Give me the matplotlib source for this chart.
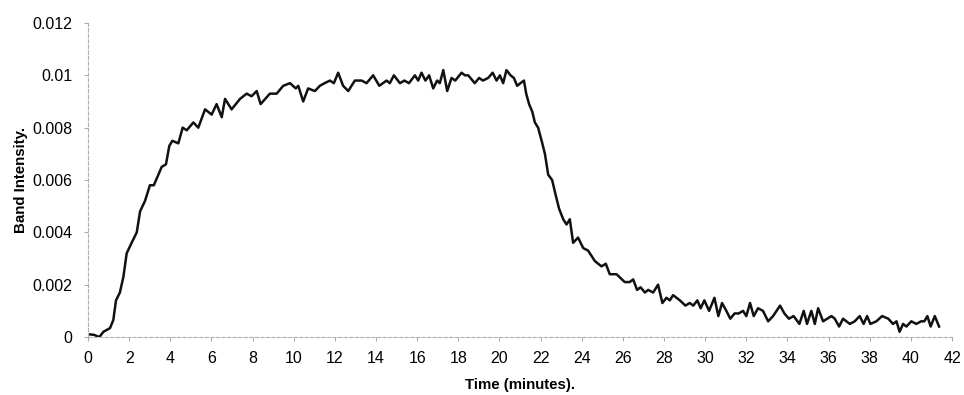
import matplotlib
matplotlib.use("Agg")
import matplotlib.pyplot as plt

plt.rcParams['font.family'] = ['Liberation Sans', 'DejaVu Sans']

# time (minutes) and band intensity
time_min = [0.1, 0.3, 0.55, 0.75, 1.07, 1.23, 1.36, 1.55, 1.72, 1.88,
            2.12, 2.37, 2.53, 2.77, 3.01, 3.2, 3.42, 3.58, 3.79, 3.95,
            4.1, 4.39, 4.6, 4.8, 5.12, 5.36, 5.69, 6.01, 6.25, 6.5,
            6.66, 6.98, 7.39, 7.71, 7.95, 8.2, 8.39, 8.84, 9.17, 9.49,
            9.82, 10.1, 10.22, 10.46, 10.7, 11.03, 11.27, 11.5, 11.76, 11.95,
            12.16, 12.4, 12.65, 12.97, 13.3, 13.54, 13.86, 14.16, 14.51, 14.67,
            14.87, 15.16, 15.38, 15.6, 15.89, 16.05, 16.21, 16.4, 16.58, 16.78,
            16.97, 17.1, 17.27, 17.46, 17.67, 17.85, 18.16, 18.32, 18.48, 18.8,
            19.01, 19.2, 19.45, 19.67, 19.86, 20.02, 20.18, 20.34, 20.54, 20.7,
            20.86, 21.02, 21.19, 21.3, 21.44, 21.6, 21.72, 21.88, 22.05, 22.21,
            22.37, 22.56, 22.74, 22.9, 23.1, 23.26, 23.42, 23.58, 23.82, 24.07,
            24.31, 24.64, 24.96, 25.17, 25.36, 25.69, 26.09, 26.33, 26.5, 26.69,
            26.86, 27.07, 27.23, 27.47, 27.71, 27.92, 28.12, 28.28, 28.44, 28.77,
            29.04, 29.25, 29.42, 29.62, 29.78, 29.96, 30.19, 30.45, 30.64, 30.82,
            31.03, 31.22, 31.43, 31.63, 31.84, 32.0, 32.18, 32.36, 32.57, 32.81,
            33.06, 33.3, 33.64, 33.85, 34.07, 34.3, 34.58, 34.79, 34.95, 35.16,
            35.33, 35.49, 35.73, 36.14, 36.3, 36.51, 36.7, 37.03, 37.27, 37.51,
            37.7, 37.87, 38.03, 38.32, 38.6, 38.9, 39.13, 39.3, 39.45, 39.62,
            39.78, 40.02, 40.26, 40.5, 40.65, 40.8, 40.96, 41.16, 41.37]

intensity = [0.0001, 0.00008, 0.0, 0.0002, 0.00034, 0.00065, 0.0014, 0.0017, 0.0023, 0.0032,
             0.0036, 0.0040, 0.0048, 0.0052, 0.0058, 0.0058, 0.0062, 0.0065, 0.0066, 0.0073,
             0.0075, 0.0074, 0.0080, 0.0079, 0.0082, 0.0080, 0.0087, 0.0085, 0.0089, 0.0084,
             0.0091, 0.0087, 0.0091, 0.0093, 0.0092, 0.0094, 0.0089, 0.0093, 0.0093, 0.0096,
             0.0097, 0.0095, 0.0096, 0.0090, 0.0095, 0.0094, 0.0096, 0.0097, 0.0098, 0.0097,
             0.0101, 0.0096, 0.0094, 0.0098, 0.0098, 0.0097, 0.0100, 0.0096, 0.0098, 0.0097,
             0.0100, 0.0097, 0.0098, 0.0097, 0.0100, 0.0098, 0.0101, 0.0098, 0.0100, 0.0095,
             0.0098, 0.0097, 0.0102, 0.0094, 0.0099, 0.0098, 0.0101, 0.0100, 0.0100, 0.0097,
             0.0099, 0.0098, 0.0099, 0.0101, 0.0098, 0.0100, 0.0097, 0.0102, 0.0100, 0.0099,
             0.0096, 0.0097, 0.0098, 0.0093, 0.0089, 0.0086, 0.0082, 0.0080, 0.0075, 0.0070,
             0.0062, 0.0060, 0.0054, 0.0049, 0.0045, 0.0043, 0.0045, 0.0036, 0.0038, 0.0034,
             0.0033, 0.0029, 0.0027, 0.0028, 0.0024, 0.0024, 0.0021, 0.0021, 0.0022, 0.0018,
             0.0019, 0.0017, 0.0018, 0.0017, 0.0020, 0.0013, 0.0015, 0.0014, 0.0016, 0.0014,
             0.0012, 0.0013, 0.0012, 0.0014, 0.0011, 0.0014, 0.0010, 0.0015, 0.0008, 0.0013,
             0.0010, 0.0007, 0.0009, 0.0009, 0.0010, 0.0008, 0.0013, 0.0008, 0.0011, 0.0010,
             0.0006, 0.0008, 0.0012, 0.0009, 0.0007, 0.0008, 0.0005, 0.0010, 0.0005, 0.0010,
             0.0005, 0.0011, 0.0006, 0.0008, 0.0007, 0.0004, 0.0007, 0.0005, 0.0006, 0.0008,
             0.0005, 0.0008, 0.0005, 0.0006, 0.0008, 0.0007, 0.0005, 0.0006, 0.0002, 0.0005,
             0.0004, 0.0006, 0.0005, 0.0006, 0.0006, 0.0008, 0.0004, 0.0008, 0.0004]

x_ticks = list(range(0, 43, 2))
y_ticks = [0, 0.002, 0.004, 0.006, 0.008, 0.01, 0.012]
y_tick_labels = ["0", "0.002", "0.004", "0.006", "0.008", "0.01", "0.012"]

fig = plt.figure(figsize=(9.64, 3.95), dpi=100)
ax = fig.add_axes([0.0913, 0.1468, 0.8963, 0.795])

ax.plot(time_min, intensity, color="#111111", linewidth=1.8, solid_joinstyle="round")

ax.set_xlim(0, 42)
ax.set_ylim(0, 0.012)
ax.set_xticks(x_ticks)
ax.set_yticks(y_ticks)
ax.set_yticklabels(y_tick_labels)

# faint dotted axes like the scanned original
for side in ["top", "right"]:
    ax.spines[side].set_visible(False)
for side in ["left", "bottom"]:
    ax.spines[side].set_color("#b0b0b0")
    ax.spines[side].set_linestyle((0, (3, 2)))
    ax.spines[side].set_linewidth(0.8)

ax.tick_params(axis="both", direction="out", length=3, width=0.6, color="#999999",
               labelsize=11.5, labelcolor="black")
ax.tick_params(axis="y", pad=8)
ax.tick_params(axis="x", pad=7)

ax.set_xlabel("Time (minutes).", fontsize=10.8, fontweight="bold", labelpad=9)
ax.set_ylabel("Band Intensity.", fontsize=10.8, fontweight="bold", labelpad=3)

fig.savefig("out.png", dpi=100)
